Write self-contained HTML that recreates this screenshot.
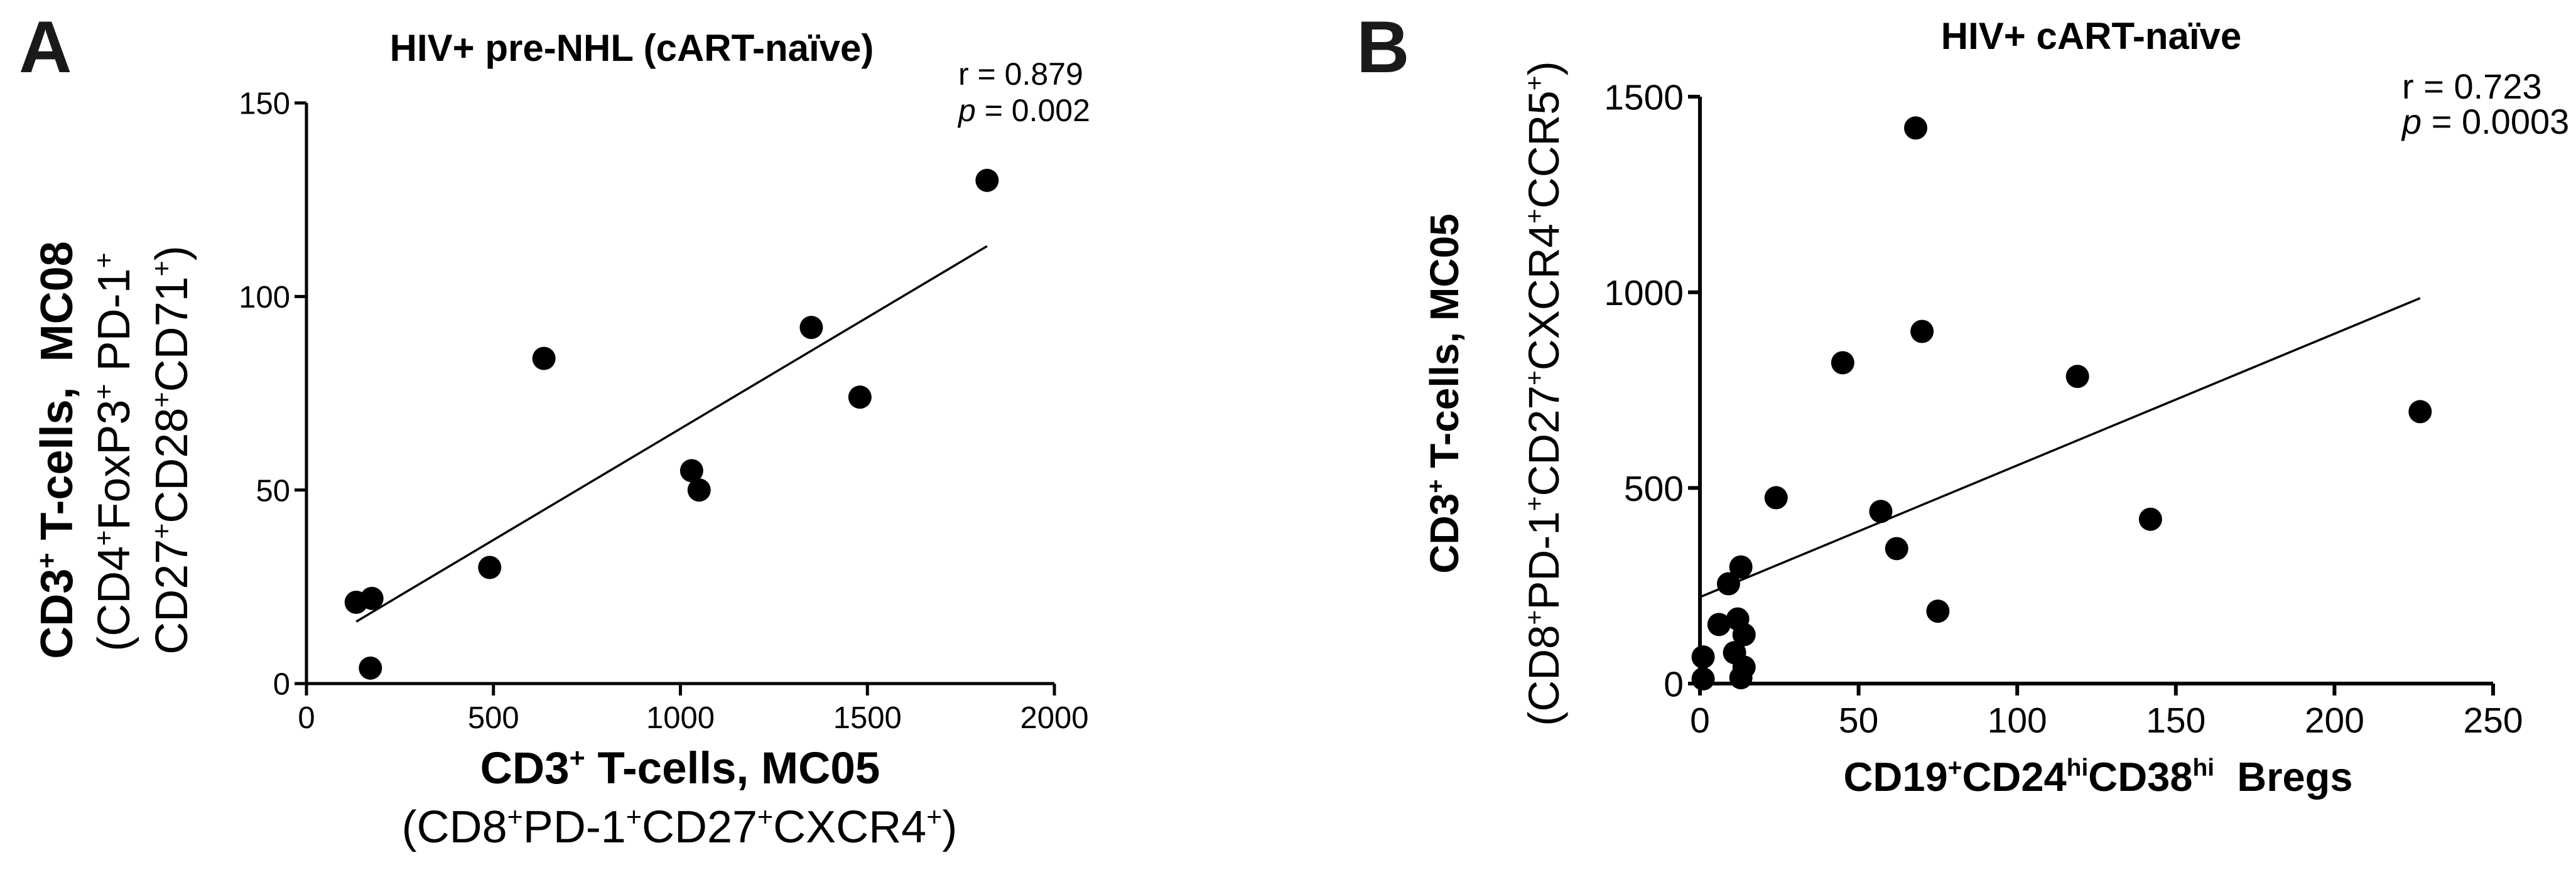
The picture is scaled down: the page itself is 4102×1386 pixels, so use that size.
<!DOCTYPE html>
<html><head><meta charset="utf-8"><style>
html,body{margin:0;padding:0;background:#fff}
svg{display:block;font-family:"Liberation Sans",Arial,sans-serif}
</style></head><body>
<svg id="fig" width="4102" height="1386" viewBox="0 0 4102 1386" xmlns="http://www.w3.org/2000/svg">
<g>
<text x="30" y="115" font-size="117" font-weight="bold" fill="#1a1a1a">A</text>
<text x="1006" y="97" font-size="60" font-weight="bold" text-anchor="middle">HIV+ pre-NHL (cART-naïve)</text>
<text x="1526" y="135" font-size="50">r = 0.879</text>
<text x="1526" y="193" font-size="50"><tspan font-style="italic">p</tspan> = 0.002</text>
<text transform="translate(115,717) rotate(-90)" font-size="72" font-weight="bold" text-anchor="middle">CD3<tspan font-size="43" dy="-26">+</tspan><tspan dy="26"> T-cells,&#160; MC08</tspan></text>
<text transform="translate(206,720) rotate(-90)" font-size="72" text-anchor="middle">(CD4<tspan font-size="43" dy="-26">+</tspan><tspan dy="26">FoxP3</tspan><tspan font-size="43" dy="-26">+</tspan><tspan dy="26"> PD-1</tspan><tspan font-size="43" dy="-26">+</tspan></text>
<text transform="translate(298,717) rotate(-90)" font-size="72" text-anchor="middle">CD27<tspan font-size="43" dy="-26">+</tspan><tspan dy="26">CD28</tspan><tspan font-size="43" dy="-26">+</tspan><tspan dy="26">CD71</tspan><tspan font-size="43" dy="-26">+</tspan><tspan dy="26">)</tspan></text>
<text x="1083" y="1248" font-size="71" font-weight="bold" text-anchor="middle">CD3<tspan font-size="43" dy="-26">+</tspan><tspan dy="26"> T-cells, MC05</tspan></text>
<text x="1082" y="1342" font-size="72" text-anchor="middle">(CD8<tspan font-size="43" dy="-26">+</tspan><tspan dy="26">PD-1</tspan><tspan font-size="43" dy="-26">+</tspan><tspan dy="26">CD27</tspan><tspan font-size="43" dy="-26">+</tspan><tspan dy="26">CXCR4</tspan><tspan font-size="43" dy="-26">+</tspan><tspan dy="26">)</tspan></text>
<g id="plotA"></g>
</g>
<g>
<text x="2160" y="115" font-size="117" font-weight="bold" fill="#1a1a1a">B</text>
<text x="3330" y="78" font-size="60" font-weight="bold" text-anchor="middle">HIV+ cART-naïve</text>
<text x="3825" y="157" font-size="56">r = 0.723</text>
<text x="3825" y="213" font-size="56"><tspan font-style="italic">p</tspan> = 0.0003</text>
<text transform="translate(2322,627) rotate(-90)" font-size="64" font-weight="bold" text-anchor="middle">CD3<tspan font-size="38" dy="-23">+</tspan><tspan dy="23"> T-cells, MC05</tspan></text>
<text transform="translate(2482,627) rotate(-90)" font-size="69" text-anchor="middle">(CD8<tspan font-size="41" dy="-25">+</tspan><tspan dy="25">PD-1</tspan><tspan font-size="41" dy="-25">+</tspan><tspan dy="25">CD27</tspan><tspan font-size="41" dy="-25">+</tspan><tspan dy="25">CXCR4</tspan><tspan font-size="41" dy="-25">+</tspan><tspan dy="25">CCR5</tspan><tspan font-size="41" dy="-25">+</tspan><tspan dy="25">)</tspan></text>
<text x="3341" y="1260" font-size="65" font-weight="bold" text-anchor="middle">CD19<tspan font-size="39" dy="-24">+</tspan><tspan dy="24">CD24</tspan><tspan font-size="39" dy="-24">hi</tspan><tspan dy="24">CD38</tspan><tspan font-size="39" dy="-24">hi</tspan><tspan dy="24">&#160; Bregs</tspan></text>
<g id="plotB"></g>
</g>
</svg>
<script>
// Panel A data
const aX = [133, 175, 171, 490, 635, 1030, 1050, 1350, 1480, 1820];
const aY = [21, 22, 4, 30, 84, 55, 50, 92, 74, 130];
const aFitX = [133, 1820];
const aFitY = [16, 113];
const aXTicks = [0, 500, 1000, 1500, 2000];
const aYTicks = [0, 50, 100, 150];
// Panel B data
const bX = [1, 1, 6, 9, 11.9, 10.9, 12.9, 12.9, 13.9, 13.9, 24, 45, 57, 62, 68, 70, 75, 119, 142, 227];
const bY = [12, 68, 151, 255, 165, 79, 15, 298, 125, 42, 475, 820, 440, 345, 1420, 900, 185, 785, 420, 695];
const bFitX = [0, 227];
const bFitY = [221, 985];
const bXTicks = [0, 50, 100, 150, 200, 250];
const bYTicks = [0, 500, 1000, 1500];

const NS = 'http://www.w3.org/2000/svg';
function mk(parent, tag, attrs){
  const e = document.createElementNS(NS, tag);
  for (const k in attrs) e.setAttribute(k, attrs[k]);
  parent.appendChild(e);
  return e;
}
function drawPanel(g, cfg){
  const sx = v => cfg.x0 + (v - cfg.xmin) / (cfg.xmax - cfg.xmin) * (cfg.x1 - cfg.x0);
  const sy = v => cfg.y0 - (v - cfg.ymin) / (cfg.ymax - cfg.ymin) * (cfg.y0 - cfg.y1);
  const xa = mk(g, 'line', {x1: cfg.x0, y1: cfg.y0, x2: cfg.x1, y2: cfg.y0, stroke: '#000', 'stroke-width': cfg.aw});
  
  
  const ya = mk(g, 'line', {x1: cfg.x0, y1: cfg.y0, x2: cfg.x0, y2: cfg.y1, stroke: '#000', 'stroke-width': cfg.aw});
  
  
  cfg.xt.forEach(t => {
    const x = sx(t);
    const tk = mk(g, 'line', {x1: x, y1: cfg.y0, x2: x, y2: cfg.y0 + 19, stroke: '#000', 'stroke-width': cfg.aw});
    
    
    const lb = mk(g, 'text', {x: x, y: cfg.xlabY, 'font-size': cfg.tf, 'text-anchor': 'middle'});
    lb.textContent = t;
    
    
  });
  cfg.yt.forEach(t => {
    const y = sy(t);
    const tk = mk(g, 'line', {x1: cfg.x0 - 19, y1: y, x2: cfg.x0, y2: y, stroke: '#000', 'stroke-width': cfg.aw});
    
    
    const lb = mk(g, 'text', {x: cfg.x0 - 26, y: y + cfg.tf * 0.36, 'font-size': cfg.tf, 'text-anchor': 'end'});
    lb.textContent = t;
    
    
  });
  const fl = mk(g, 'line', {x1: sx(cfg.fx[0]), y1: sy(cfg.fy[0]), x2: sx(cfg.fx[1]), y2: sy(cfg.fy[1]), stroke: '#000', 'stroke-width': 3.5});
  
  
  cfg.xs.forEach((v, i) => {
    const c = mk(g, 'circle', {cx: sx(v), cy: sy(cfg.ys[i]), r: 18.5, fill: '#000'});
    
    
  });
}
drawPanel(document.getElementById('plotA'), {p: 'panel-a', x0: 488, x1: 1679, y0: 1089, y1: 164, xmin: 0, xmax: 2000, ymin: 0, ymax: 150,
  xt: aXTicks, yt: aYTicks, xs: aX, ys: aY, fx: aFitX, fy: aFitY, tf: 49, xlabY: 1160, aw: 5});
drawPanel(document.getElementById('plotB'), {p: 'panel-b', x0: 2707, x1: 3970, y0: 1089, y1: 154, xmin: 0, xmax: 250, ymin: 0, ymax: 1500,
  xt: bXTicks, yt: bYTicks, xs: bX, ys: bY, fx: bFitX, fy: bFitY, tf: 57, xlabY: 1167, aw: 6});
</script>
</body></html>
